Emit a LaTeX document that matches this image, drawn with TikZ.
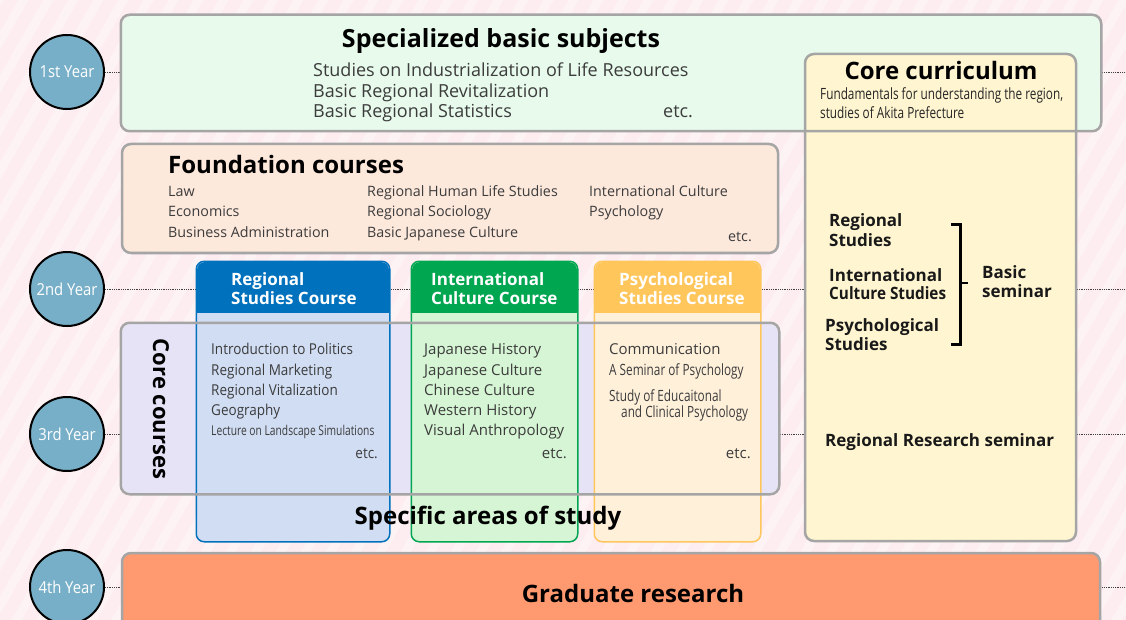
\documentclass[tikz,border=0pt]{standalone}
\usepackage{fontspec}
\setmainfont{Open Sans}
\newfontfamily\listfont[FakeStretch=0.9]{Open Sans}
\newfontfamily\narrowfont[FakeStretch=0.76]{Open Sans}
\usetikzlibrary{fit}
\definecolor{bgpink}{HTML}{FDECF0}
\definecolor{mint}{HTML}{E7FAEB}
\definecolor{cream}{HTML}{FFF5D0}
\definecolor{peach}{HTML}{FDE8DC}
\definecolor{lav}{HTML}{E6E3F7}
\definecolor{rblue}{HTML}{0071BC}
\definecolor{rbody}{HTML}{D0DDF3}
\definecolor{igreen}{HTML}{00A650}
\definecolor{ibody}{HTML}{D5F5D4}
\definecolor{porange}{HTML}{FFC65C}
\definecolor{pbody}{HTML}{FFF0DA}
\definecolor{salmon}{HTML}{FF9A70}
\definecolor{yearblue}{HTML}{78AFC8}
\definecolor{panelgray}{HTML}{A5A5A5}
\definecolor{txt}{HTML}{3C3C3C}
\begin{document}
\begin{tikzpicture}[x=1pt,y=-1pt,
  stripe/.style={line width=9pt, white, opacity=0.38},
  year/.style={circle, draw=black, line width=2pt, fill=yearblue, minimum size=74pt, inner sep=0pt, text=white, font=\listfont\fontsize{16.5}{18}\selectfont},
  link/.style={densely dotted, line width=0.8pt, draw=black!75},
  panel/.style={line width=2.5pt, rounded corners=9pt, inner sep=0pt},
  course/.style={line width=1.5pt, rounded corners=8pt, inner sep=0pt},
  ttl/.style={font=\bfseries\fontsize{24}{28}\selectfont, inner sep=0pt, anchor=base, text=black},
  hd/.style={font=\bfseries\fontsize{17}{20}\selectfont, text=white, inner sep=0pt, anchor=base west},
  cc/.style={font=\bfseries\fontsize{17}{20}\selectfont, text=black!90, inner sep=0pt, anchor=base west},
  sub/.style={font=\fontsize{18}{21}\selectfont, text=txt, inner sep=0pt, anchor=base west},
  fnd/.style={font=\fontsize{14.3}{17}\selectfont, text=txt, inner sep=0pt, anchor=base west},
  lst/.style={font=\listfont\fontsize{15}{18}\selectfont, text=txt, inner sep=0pt, anchor=base west},
  wlst/.style={font=\fontsize{15}{18}\selectfont, text=txt, inner sep=0pt, anchor=base west},
  nar/.style={font=\narrowfont\fontsize{15.5}{18}\selectfont, text=black!85, inner sep=0pt, anchor=base west}
]
\useasboundingbox (0,0) rectangle (1126,620);
\clip (0,0) rectangle (1126,620);
\fill[bgpink] (0,0) rectangle (1126,620);
\foreach \i in {-420,-395,...,1150} \draw[stripe] (\i,640) -- (\i+380,-20);

% year circles and dotted guide lines
\node[year] (y1) at (67,72) {1st Year};
\node[year] (y2) at (67,289) {2nd Year};
\node[year] (y3) at (67,434) {3rd Year};
\node[year] (y4) at (67,587) {4th Year};
\coordinate (r1) at (1126,72);
\coordinate (r2) at (1126,289);
\coordinate (r3) at (1126,434);
\coordinate (r4) at (1126,587);
\draw[link] (y1) -- (r1);
\draw[link] (y2) -- (r2);
\draw[link] (y3) -- (r3);
\draw[link] (y4) -- (r4);

% specialized basic subjects + core curriculum
\node[panel, fill=mint, fit={(122,16) (1100,130)}] (spec) {};
\node[panel, fill=cream, draw=panelgray, fit={(805,54) (1076,541)}] (core) {};
\draw[panel, draw=panelgray] (spec.north west) rectangle (spec.south east);

% foundation courses
\node[panel, fill=peach, draw=panelgray, fit={(122,144) (778,253)}] (found) {};

% core courses background
\node[panel, fill=lav, fit={(122,324) (778,493)}] (corec) {};

% course boxes
\node[course, fill=rbody, fit={(197,262) (389,541)}] (reg) {};
\fill[rblue, rounded corners=8pt] (197,262) rectangle (389,330);
\fill[rbody] (197,313) rectangle (389,334);
\draw[course, draw=rblue] (reg.north west) rectangle (reg.south east);

\node[course, fill=ibody, fit={(412,262) (577,541)}] (intl) {};
\fill[igreen, rounded corners=8pt] (412,262) rectangle (577,330);
\fill[ibody] (412,313) rectangle (577,334);
\draw[course, draw=igreen] (intl.north west) rectangle (intl.south east);

\node[course, fill=pbody, fit={(595,262) (760,541)}] (psy) {};
\fill[porange, rounded corners=8pt] (595,262) rectangle (760,330);
\fill[pbody] (595,313) rectangle (760,334);
\draw[course, draw=porange] (psy.north west) rectangle (psy.south east);

\draw[panel, draw=panelgray] (corec.north west) rectangle (corec.south east);

% graduate research
\node[panel, fill=salmon, draw=panelgray, fit={(122,553) (1100,650)}] (grad) {};

% ---- texts ----
\node[ttl, font=\bfseries\fontsize{25}{29}\selectfont] (specT) at (501,47.5) {Specialized basic subjects};
\node[sub] (s1) at (313,77) {Studies on Industrialization of Life Resources};
\node[sub] (s2) at (313,97.5) {Basic Regional Revitalization};
\node[sub] (s3) at (313,117.5) {Basic Regional Statistics};
\node[sub] (s4) at (663,117.5) {etc.};

\node[ttl] (coreT) at (941,80) {Core curriculum};
\node[nar] (c1) at (820,100) {Fundamentals for understanding the region,};
\node[nar] (c2) at (820,119) {studies of Akita Prefecture};
\node[cc] (b1) at (829,227) {Regional};
\node[cc] (b2) at (829,246.5) {Studies};
\node[cc] (b3) at (829,281) {International};
\node[cc, font=\listfont\bfseries\fontsize{17}{20}\selectfont] (b4) at (829,299.5) {Culture Studies};
\node[cc] (b5) at (825,331) {Psychological};
\node[cc] (b6) at (825,350) {Studies};
\node[cc] (b7) at (982,278.5) {Basic};
\node[cc] (b8) at (982,297) {seminar};
\node[cc] (b9) at (825,446.5) {Regional Research seminar};
\draw[line width=3pt] (951,225) -- (960,225) -- (960,344) -- (951,344);
\draw[line width=2pt] (960,283) -- (968,283);

\node[ttl, anchor=base west] (foundT) at (168,173.5) {Foundation courses};
\node[fnd] (f1) at (168,196.5) {Law};
\node[fnd] (f2) at (168,216.5) {Economics};
\node[fnd] (f3) at (168,237) {Business Administration};
\node[fnd] (f4) at (367,196.5) {Regional Human Life Studies};
\node[fnd] (f5) at (367,216.5) {Regional Sociology};
\node[fnd] (f6) at (367,237) {Basic Japanese Culture};
\node[fnd] (f7) at (589,196.5) {International Culture};
\node[fnd] (f8) at (589,216.5) {Psychology};
\node[fnd, anchor=base east] (f9) at (752,242) {etc.};

\node[hd] (h1) at (231,285) {Regional};
\node[hd] (h2) at (231,304) {Studies Course};
\node[hd] (h3) at (431,285) {International};
\node[hd] (h4) at (431,304) {Culture Course};
\node[hd] (h5) at (619,285) {Psychological};
\node[hd] (h6) at (619,304) {Studies Course};

\node[ttl, font=\bfseries\fontsize{22}{26}\selectfont, rotate=-90, anchor=center] (coreCT) at (161,409) {Core courses};

\node[lst] (ra) at (211,354) {Introduction to Politics};
\node[lst] (rb) at (211,375) {Regional Marketing};
\node[lst] (rc) at (211,395) {Regional Vitalization};
\node[lst] (rd) at (211,415.5) {Geography};
\node[nar, font=\narrowfont\fontsize{13.5}{16}\selectfont, text=txt] (re) at (211,435.5) {Lecture on Landscape Simulations};
\node[lst, anchor=base east] (rf) at (378,458) {etc.};

\node[wlst] (ia) at (424,354) {Japanese History};
\node[wlst] (ib) at (424,375) {Japanese Culture};
\node[wlst] (ic) at (424,395) {Chinese Culture};
\node[wlst] (id) at (424,415.5) {Western History};
\node[wlst] (ie) at (424,435.5) {Visual Anthropology};
\node[wlst, anchor=base east] (if) at (567,458) {etc.};

\node[wlst] (pa) at (609,354) {Communication};
\node[nar, text=txt] (pb) at (609,375) {A Seminar of Psychology};
\node[nar, text=txt] (pc) at (609,401.5) {Study of Educaitonal};
\node[nar, text=txt] (pd) at (621,417) {and Clinical Psychology};
\node[wlst, anchor=base east] (pf) at (751,458) {etc.};

\node[ttl] (areaT) at (488,524.5) {Specific areas of study};
\node[ttl] (gradT) at (633,602.5) {Graduate research};
\end{tikzpicture}
\end{document}
